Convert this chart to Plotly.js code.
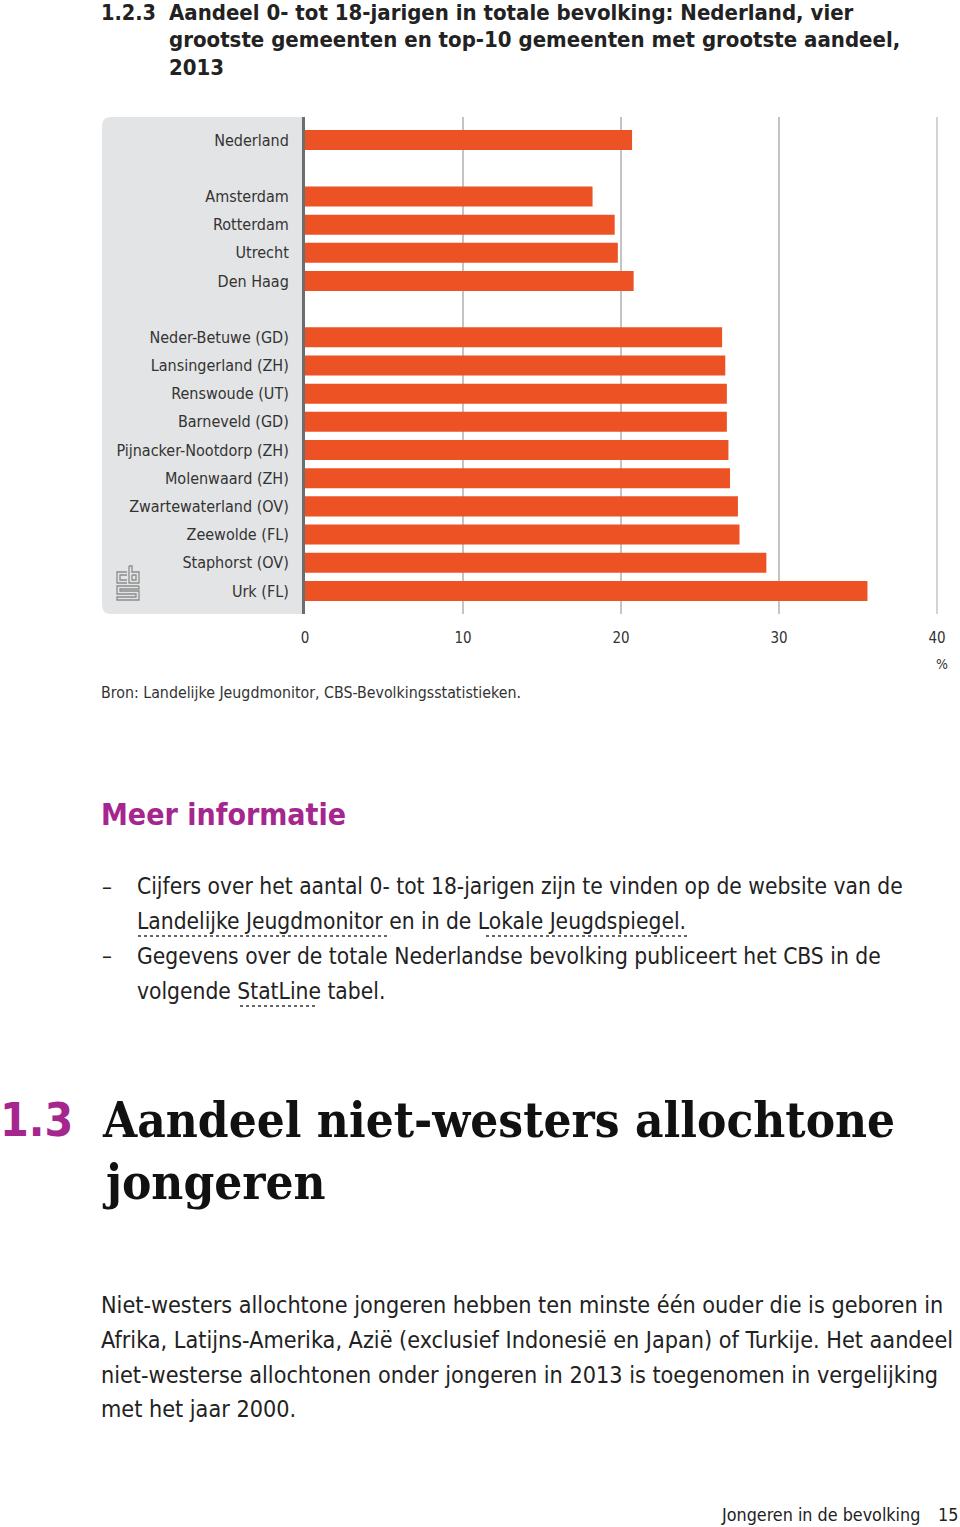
<!DOCTYPE html>
<html>
<head>
<meta charset="utf-8">
<script src="https://cdn.plot.ly/plotly-3.0.1.min.js"></script>
<style>html,body{margin:0;padding:0;background:#fff;}#chart{width:960px;height:1527px;}</style>
</head>
<body>
<div id="chart"></div>
<script>
// ---- data ----
const categories = [
  "Nederland", " ",
  "Amsterdam", "Rotterdam", "Utrecht", "Den Haag", "  ",
  "Neder-Betuwe (GD)", "Lansingerland (ZH)", "Renswoude (UT)", "Barneveld (GD)",
  "Pijnacker-Nootdorp (ZH)", "Molenwaard (ZH)", "Zwartewaterland (OV)",
  "Zeewolde (FL)", "Staphorst (OV)", "Urk (FL)"
];
const barCategories = [
  "Nederland",
  "Amsterdam", "Rotterdam", "Utrecht", "Den Haag",
  "Neder-Betuwe (GD)", "Lansingerland (ZH)", "Renswoude (UT)", "Barneveld (GD)",
  "Pijnacker-Nootdorp (ZH)", "Molenwaard (ZH)", "Zwartewaterland (OV)",
  "Zeewolde (FL)", "Staphorst (OV)", "Urk (FL)"
];
const shareValues = [20.7, 18.2, 19.6, 19.8, 20.8, 26.4, 26.6, 26.7, 26.7, 26.8, 26.9, 27.4, 27.5, 29.2, 35.6];
const xTickValues = [0, 10, 20, 30, 40];
const xTickLabels = ["0", "10", "20", "30", "40"];

// ---- helpers: pixel -> paper ----
const L = 305, R = 937, T = 117, B = 614;
function PX(x){ return (x - L) / (R - L); }
function PY(y){ return (B - y) / (B - T); }

const BODY = "Liberation Sans Narrow, DejaVu Sans Condensed, Arial Narrow, sans-serif";
const BOLD = "DejaVu Sans Condensed, Liberation Sans Narrow, sans-serif";
const SLAB = "DejaVu Serif Condensed, DejaVu Serif, serif";
const PURPLE = "#a5268e";
const TXT = "#222222";

function ann(text, x, y, size, opts){
  opts = opts || {};
  const anchor = opts.xanchor || "left";
  const dx = anchor === "left" ? -2 : (anchor === "right" ? 2 : 0);
  return {
    text: text, xref: "paper", yref: "paper", x: PX(x + dx), y: PY(y),
    xanchor: anchor, yanchor: "middle", showarrow: false,
    font: {family: opts.family || BODY, size: size, color: opts.color || TXT, weight: opts.weight || "normal"}
  };
}

const annotations = [
  ann("1.2.3", 101, 13, 21.5, {family: BOLD, weight: "bold"}),
  ann("Aandeel 0- tot 18-jarigen in totale bevolking: Nederland, vier", 169, 13, 22, {family: BOLD, weight: "bold"}),
  ann("grootste gemeenten en top-10 gemeenten met grootste aandeel,", 169, 40, 22, {family: BOLD, weight: "bold"}),
  ann("2013", 169, 67, 22, {family: BOLD, weight: "bold"}),
  ann("%", 942, 664, 14, {xanchor: "center", color: "#333"}),
  ann("Bron: Landelijke Jeugdmonitor, CBS-Bevolkingsstatistieken.", 101, 692, 15.8, {color: "#333"}),
  ann("Meer informatie", 101, 814, 30, {family: BOLD, weight: "bold", color: PURPLE}),
  ann("–", 102, 886, 22),
  ann("Cijfers over het aantal 0- tot 18-jarigen zijn te vinden op de website van de", 137, 886, 22.6),
  ann("Landelijke Jeugdmonitor en in de Lokale Jeugdspiegel.", 137, 921, 22.6),
  ann("–", 102, 956, 22),
  ann("Gegevens over de totale Nederlandse bevolking publiceert het CBS in de", 137, 956, 22.6),
  ann("volgende StatLine tabel.", 137, 991, 22.6),
  ann("1.3", 0, 1120, 46, {family: BOLD, weight: "bold", color: PURPLE}),
  ann("Aandeel niet-westers allochtone", 102, 1120, 49, {family: SLAB, weight: "bold", color: "#111"}),
  ann("jongeren", 102, 1182, 49, {family: SLAB, weight: "bold", color: "#111"}),
  ann("Niet-westers allochtone jongeren hebben ten minste één ouder die is geboren in", 101, 1304, 23.2),
  ann("Afrika, Latijns-Amerika, Azië (exclusief Indonesië en Japan) of Turkije. Het aandeel", 101, 1339, 23.2),
  ann("niet-westerse allochtonen onder jongeren in 2013 is toegenomen in vergelijking", 101, 1374, 23.2),
  ann("met het jaar 2000.", 101, 1409, 23.2),
  ann("Jongeren in de bevolking", 920, 1514, 17.8, {xanchor: "right"}),
  ann("15", 958, 1514, 17.8, {xanchor: "right"})
];

function rr(x0, y0, x1, y1, r){
  return "M" + PX(x0 + r) + "," + PY(y0) + " L" + PX(x1) + "," + PY(y0) +
    " L" + PX(x1) + "," + PY(y1) + " L" + PX(x0 + r) + "," + PY(y1) +
    " Q" + PX(x0) + "," + PY(y1) + " " + PX(x0) + "," + PY(y1 - r) +
    " L" + PX(x0) + "," + PY(y0 + r) +
    " Q" + PX(x0) + "," + PY(y0) + " " + PX(x0 + r) + "," + PY(y0) + " Z";
}
function pth(pts){
  return pts.map((p, i) => (i ? "L" : "M") + PX(p[0]) + "," + PY(p[1])).join(" ");
}
const logoLine = {color: "#8c8c8c", width: 1.3};
const shapes = [
  {type: "path", xref: "paper", yref: "paper", path: rr(102, 117, 305, 614, 9),
   fillcolor: "#e3e4e5", line: {width: 0}, layer: "below"},
  // gridline at the right end of the axis (40)
  {type: "line", xref: "paper", yref: "paper", x0: 1, x1: 1, y0: 0, y1: 1,
   line: {color: "#c4c4c4", width: 1.5}, layer: "below"},
  // cbs logo (approximate)
  {type: "path", xref: "paper", yref: "paper", path: pth([[127,572],[117,572],[117,583],[127,583]]), line: logoLine},
  {type: "path", xref: "paper", yref: "paper", path: pth([[127,575],[120,575],[120,580],[127,580]]), line: logoLine},
  {type: "path", xref: "paper", yref: "paper", path: pth([[129,566],[129,583],[139,583],[139,572],[132,572],[132,566],[129,566]]), line: logoLine},
  {type: "path", xref: "paper", yref: "paper", path: pth([[132,575],[136,575],[136,580],[132,580],[132,575]]), line: logoLine},
  {type: "path", xref: "paper", yref: "paper", path: pth([[139,586],[117,586],[117,594],[136,594],[136,597],[117,597],[117,600],[139,600],[139,591],[120,591],[120,589],[139,589],[139,586]]), line: logoLine},
  // dotted link underlines
  {type: "line", xref: "paper", yref: "paper", x0: PX(138), x1: PX(388), y0: PY(936), y1: PY(936), line: {color: "#333", width: 1.6, dash: "dot"}},
  {type: "line", xref: "paper", yref: "paper", x0: PX(486), x1: PX(690), y0: PY(936), y1: PY(936), line: {color: "#333", width: 1.6, dash: "dot"}},
  {type: "line", xref: "paper", yref: "paper", x0: PX(240), x1: PX(318), y0: PY(1006), y1: PY(1006), line: {color: "#333", width: 1.6, dash: "dot"}}
];

const trace = {
  type: "bar", orientation: "h", x: shareValues, y: barCategories,
  marker: {color: "#ec5224", line: {width: 0}},
  hoverinfo: "x+y"
};

const layout = {
  width: 960, height: 1527,
  margin: {l: L, r: 960 - R, t: T, b: 1527 - B, pad: 0},
  paper_bgcolor: "#ffffff", plot_bgcolor: "rgba(0,0,0,0)",
  showlegend: false, bargap: 0.29,
  xaxis: {
    range: [0, 40], tickvals: xTickValues, ticktext: xTickLabels,
    showgrid: true, gridcolor: "#c4c4c4", gridwidth: 1.2,
    zeroline: false, showline: false, ticks: "", ticklabelstandoff: 13,
    tickfont: {family: BODY, size: 15, color: "#333"}, fixedrange: true
  },
  yaxis: {
    type: "category", categoryorder: "array", categoryarray: categories,
    range: [16.82, -0.82], showgrid: false, zeroline: false,
    showline: true, linecolor: "#6c6d6f", linewidth: 3, ticks: "", ticklabelstandoff: 10,
    tickfont: {family: BODY, size: 16, color: "#333"}, fixedrange: true
  },
  annotations: annotations,
  shapes: shapes
};

Plotly.newPlot("chart", [trace], layout, {displayModeBar: false, staticPlot: true});
</script>
</body>
</html>
